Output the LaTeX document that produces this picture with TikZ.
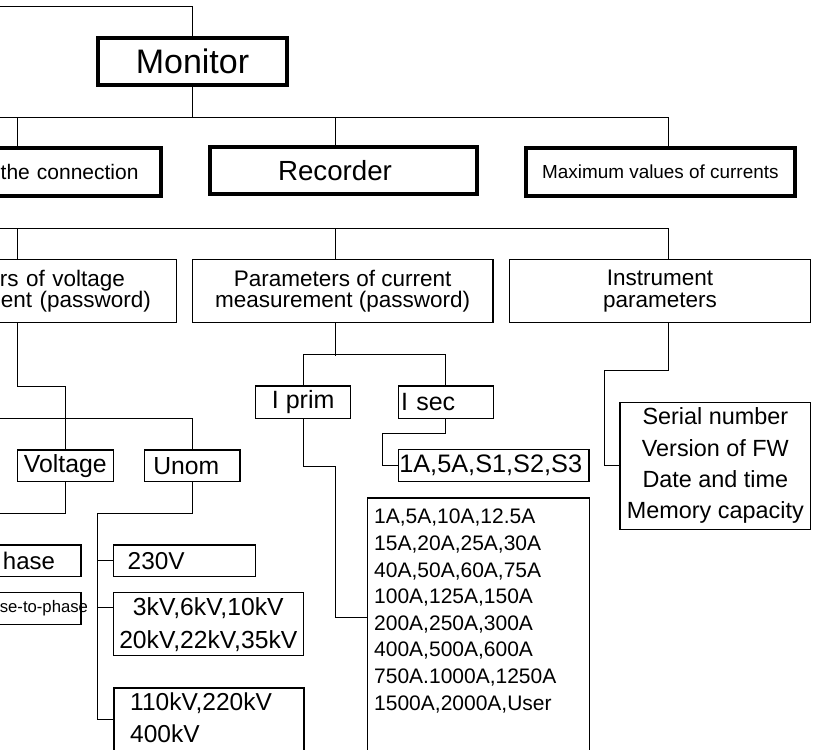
\documentclass[tikz,border=0pt]{standalone}
\usepackage{fontspec}
\setmainfont{Liberation Sans}
\newcommand{\fsz}[2]{\fontsize{#1}{#2}\selectfont}

\begin{document}
\begin{tikzpicture}[x=1pt,y=-1pt]

      \useasboundingbox (0,0) rectangle (815,750);
      \fill[white] (0,0) rectangle (815,750);
      \clip (0,0) rectangle (815,750);

      \coordinate (topw) at (0,6);
      \coordinate (bus1) at (0,117);
      \coordinate (bus2) at (0,228);
      \coordinate (bus3) at (0,418);
      \coordinate (vout) at (0,513);
      \coordinate (trunk) at (97,513);

      \begin{scope}[every node/.style={draw,rectangle,inner sep=0pt,line width=4pt}]
        \node[minimum width=189pt,minimum height=47pt,font=\fsz{34}{40}] (mon) at (192.5,61.5) {Monitor};
        \node[minimum height=47.5pt,text width=156.5pt,inner xsep=22pt,align=right,font=\fsz{21}{25}] (conn) at (60.25,171.75) {the connection};
        \node[minimum height=47.5pt,text width=130.5pt,inner xsep=68.5pt,align=left,font=\fsz{27.7}{32}] (rec) at (343.25,170.5) {Recorder};
        \node[minimum width=268.7pt,minimum height=47.5pt,font=\fsz{18.9}{22}] (max) at (660.35,171.75) {Maximum values of currents};
      \end{scope}

      \begin{scope}[every node/.style={draw,rectangle,inner sep=0pt,line width=1.2pt}]
        \node[minimum height=63pt,text width=256.5pt,inner xsep=25.5pt,align=right,font=\fsz{22.5}{21.5}] (vpar) at (22.75,291) {ers of voltage\kern26pt\\ent (password)};
        \node[minimum width=300.7pt,minimum height=63pt,align=center,font=\fsz{22.5}{21.5}] (cpar) at (342.65,291) {Parameters of current\\measurement (password)};
        \node[minimum width=301.4pt,minimum height=63pt,align=center,font=\fsz{22.5}{21.5}] (ins) at (660,291) {Instrument\\parameters};

        \node[minimum width=95pt,minimum height=32.3pt,font=\fsz{25}{30}] (iprim) at (303.2,402.2) {I prim};
        \node[minimum height=32.3pt,text width=89.6pt,inner xsep=2.7pt,align=left,font=\fsz{25}{30}] (isec) at (445.8,402.2) {I sec};
        \node[minimum height=32.4pt,text width=188.7pt,inner xsep=1pt,align=left,font=\fsz{25.3}{30}] (secl) at (493.65,465.5) {1A,5A,S1,S2,S3};
        \node[minimum width=222.3pt,minimum height=320pt,anchor=north west] (priml) at (366.7,497.3) {};
        \node[minimum width=190.7pt,minimum height=127pt,align=center,font=\fsz{23.4}{31.3}] (insl) at (715.35,465.8) {Serial number\\Version of FW\\Date and time\\Memory capacity};

        \node[minimum width=96pt,minimum height=31.7pt,font=\fsz{24.8}{30}] (volt) at (65.3,465.85) {Voltage};
        \node[minimum height=31.7pt,text width=77.7pt,inner xsep=9pt,align=left,font=\fsz{24.7}{30}] (unom) at (192.15,465.85) {Unom};
        \node[minimum height=31.7pt,text width=89pt,inner xsep=26pt,align=right,font=\fsz{24}{30}] (ph) at (10.5,560.85) {hase};
        \node[minimum height=31.6pt,text width=141pt,inner xsep=0pt,align=right,font=\fsz{16.7}{20}] (ptp) at (10.5,608.5) {se-to-phase\kern-7pt};
        \node[minimum height=31.7pt,text width=113.6pt,inner xsep=14.4pt,align=left,font=\fsz{24.4}{30}] (v230) at (184.5,560.85) {230V};
        \node[minimum width=190pt,minimum height=63pt,align=center,font=\fsz{24.7}{33}] (vmid) at (208.3,624.2) {3kV,6kV,10kV\\20kV,22kV,35kV};
        \node[minimum width=190pt,minimum height=120pt,anchor=north west] (vhigh) at (113.3,687.3) {};
      \end{scope}

      \begin{scope}[every node/.style={inner sep=0pt,anchor=north west,align=left}]
        \node[font=\fsz{21}{26.6}] (primtxt) at (374,509) {1A,5A,10A,12.5A\\15A,20A,25A,30A\\40A,50A,60A,75A\\100A,125A,150A\\200A,250A,300A\\400A,500A,600A\\750A.1000A,1250A\\1500A,2000A,User};
        \node[font=\fsz{24.5}{31.7}] (hightxt) at (130,692.5) {110kV,220kV\\400kV};
      \end{scope}

      \path ([yshift=-15.3pt]vmid.north west) coordinate (tmid);

      \begin{scope}[line width=1pt]
        \draw (topw) -| (mon.north);
        \draw (mon.south) -- (mon.south |- bus1);
        \draw (bus1) -| ([xshift=8pt]max.north);
        \draw ([xshift=-43.25pt]conn.north) -- ([xshift=-43.25pt]conn.north |- bus1);
        \draw ([xshift=-8.25pt]rec.north) -- ([xshift=-8.25pt]rec.north |- bus1);

        \draw (bus2) -| ([xshift=8pt]ins.north);
        \draw ([xshift=-5.75pt]vpar.north) -- ([xshift=-5.75pt]vpar.north |- bus2);
        \draw ([xshift=-7.65pt]cpar.north) -- ([xshift=-7.65pt]cpar.north |- bus2);

        \draw ([xshift=-5.75pt]vpar.south) -- ++(0,63) -| (volt.north);
        \draw (bus3) -| (unom.north);
        \draw (volt.south) |- (vout);
        \draw (unom.south) |- (trunk) |- ([yshift=-31.7pt]vhigh.north west);
        \draw (trunk |- v230.west) -- (v230.west);
        \draw (tmid -| trunk) -- (tmid);

        \draw ([xshift=-7.65pt]cpar.south) -- ++(0,32.5);
        \draw (iprim.north) -- ++(0,-31) -| (isec.north);
        \draw (iprim.south) |- ++(32,48) |- ([yshift=-119.7pt]priml.north west);
        \draw (isec.south) |- ++(-63,15) |- (secl.west);

        \draw ([xshift=8pt]ins.south) |- ++(-64,47.5) |- (insl.west);
      \end{scope}

    \end{tikzpicture}
\end{document}
